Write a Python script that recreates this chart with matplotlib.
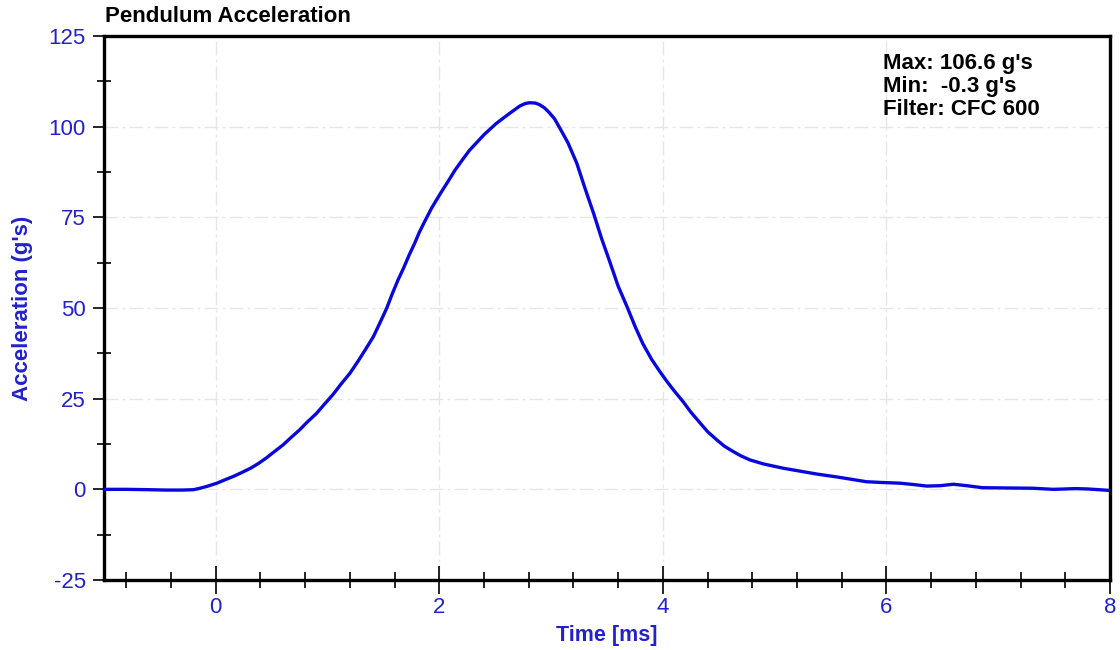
import matplotlib
matplotlib.use("Agg")
import matplotlib.pyplot as plt
from matplotlib.ticker import MultipleLocator

plt.rcParams['font.family'] = ['Liberation Sans', 'DejaVu Sans']
plt.rcParams['axes.unicode_minus'] = False

# Data (time in ms, acceleration in g's)
time_ms = [-1.0, -0.8, -0.6, -0.45, -0.3, -0.2, -0.14, -0.07, 0.01, 0.08, 0.16, 0.23,
           0.31, 0.38, 0.45, 0.52, 0.60, 0.67, 0.75, 0.82, 0.90, 0.97, 1.05, 1.12,
           1.20, 1.27, 1.34, 1.41, 1.47, 1.53, 1.58, 1.63, 1.68, 1.73, 1.78, 1.82,
           1.86, 1.93, 2.01, 2.08, 2.14, 2.21, 2.27, 2.34, 2.40, 2.46, 2.51, 2.57,
           2.63, 2.68, 2.72, 2.77, 2.81, 2.86, 2.90, 2.94, 2.98, 3.03, 3.08, 3.15,
           3.23, 3.30, 3.38, 3.45, 3.53, 3.60, 3.68, 3.75, 3.82, 3.90, 3.97, 4.03,
           4.10, 4.18, 4.25, 4.33, 4.40, 4.48, 4.55, 4.63, 4.70, 4.78, 4.90, 5.08,
           5.23, 5.38, 5.56, 5.70, 5.82, 5.95, 6.12, 6.25, 6.36, 6.48, 6.60, 6.72,
           6.86, 7.00, 7.15, 7.31, 7.49, 7.60, 7.69, 7.80, 7.90, 8.0]
accel_g = [0.0, 0.0, -0.1, -0.2, -0.2, -0.1, 0.3, 0.9, 1.7, 2.6, 3.6, 4.6,
           5.8, 7.1, 8.6, 10.3, 12.2, 14.2, 16.4, 18.6, 20.9, 23.4, 26.2, 29.0,
           32.0, 35.2, 38.6, 42.1, 46.0, 50.0, 54.0, 57.7, 61.0, 64.6, 67.9, 70.8,
           73.3, 77.5, 81.6, 85.0, 88.0, 91.0, 93.5, 95.8, 97.8, 99.5, 100.9, 102.3,
           103.7, 104.8, 105.7, 106.4, 106.6, 106.5, 106.0, 105.2, 104.0, 102.2, 99.5, 95.6,
           89.9, 83.3, 76.1, 69.3, 62.3, 56.0, 50.3, 45.0, 40.2, 35.8, 32.6, 30.0,
           27.2, 24.2, 21.3, 18.4, 15.9, 13.7, 11.9, 10.4, 9.2, 8.1, 7.0, 5.8,
           5.0, 4.2, 3.4, 2.7, 2.1, 1.9, 1.7, 1.3, 0.9, 1.0, 1.4, 1.0,
           0.45, 0.4, 0.35, 0.3, 0.0, 0.1, 0.2, 0.1, -0.1, -0.3]

y_ticks = [-25, 0, 25, 50, 75, 100, 125]
x_ticks = [0, 2, 4, 6, 8]
stats_lines = ["Max: 106.6 g's", "Min:  -0.3 g's", "Filter: CFC 600"]

blue_txt = '#2222cc'
blue_line = '#0808dc'

fig = plt.figure(figsize=(11.2, 6.5), dpi=100)
ax = fig.add_axes([104/1120, 1-580/650, (1110-104)/1120, (580-36)/650])

ax.plot(time_ms, accel_g, color=blue_line, lw=2.4, solid_capstyle='round',
        solid_joinstyle='round', zorder=3)

ax.set_xlim(-1, 8)
ax.set_ylim(-25, 125)
ax.set_xticks(x_ticks)
ax.set_yticks(y_ticks)
ax.xaxis.set_minor_locator(MultipleLocator(0.4))
ax.yaxis.set_minor_locator(MultipleLocator(12.5))

for s in ax.spines.values():
    s.set_linewidth(2.4)
    s.set_color('black')

ax.tick_params(axis='y', which='major', direction='out', length=8, width=1.2,
               labelsize=16, labelcolor=blue_txt, pad=5)
ax.tick_params(axis='y', which='minor', direction='inout', length=10, width=1.2)
ax.tick_params(axis='x', which='major', direction='inout', length=20, width=1.2,
               labelsize=16, labelcolor=blue_txt, pad=2)
ax.tick_params(axis='x', which='minor', direction='inout', length=12, width=1.2)

ax.grid(True, which='major', color='#e6e6e6', linestyle=(0, (10, 3, 2, 3)), lw=1.0, zorder=0)

ax.set_xlabel('Time [ms]', fontsize=15.5, fontweight='bold', color=blue_txt, labelpad=5)
ax.set_ylabel("Acceleration (g's)", fontsize=16, fontweight='bold', color=blue_txt, labelpad=11)

fig.text(105/1120, 1-17/650, 'Pendulum Acceleration', fontsize=16, fontweight='bold',
         color='black', ha='left', va='center')

ax.text(0.774, 0.968, "\n".join(stats_lines), transform=ax.transAxes, fontsize=16,
        fontweight='bold', color='black', ha='left', va='top', linespacing=1.1)

fig.savefig('out.png', dpi=100)
